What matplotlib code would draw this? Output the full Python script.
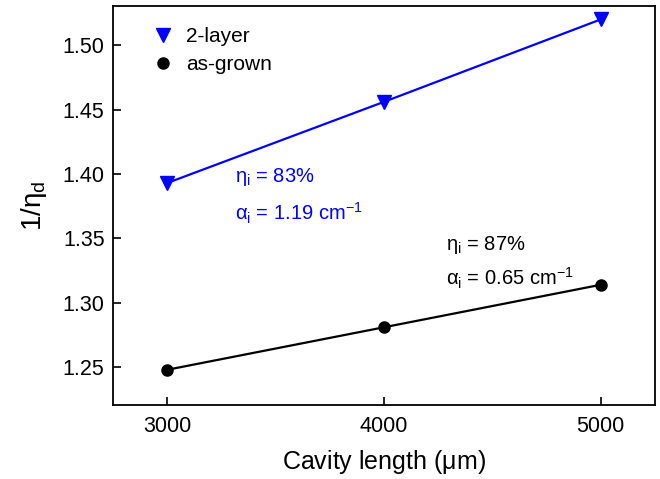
import matplotlib
matplotlib.use("Agg")
import matplotlib.pyplot as plt

plt.rcParams['font.family'] = ['Liberation Sans', 'DejaVu Sans']
plt.rcParams['mathtext.fontset'] = 'custom'
plt.rcParams['mathtext.rm'] = 'Liberation Sans'
plt.rcParams['mathtext.it'] = 'Liberation Sans'
plt.rcParams['mathtext.bf'] = 'Liberation Sans:bold'

# cavity length (um)
cavity = [3000, 4000, 5000]
# 1/eta_d values
two_layer = [1.393, 1.456, 1.520]
as_grown = [1.248, 1.281, 1.314]

x_ticks = [3000, 4000, 5000]
y_ticks = [1.25, 1.30, 1.35, 1.40, 1.45, 1.50]

blue = '#0000ff'

fig = plt.figure(figsize=(6.6, 4.79), dpi=100)
ax = fig.add_axes([0.171, 0.154, 0.821, 0.833])

# fit lines
ax.plot(cavity, two_layer, color=blue, lw=1.6)
ax.plot(cavity, as_grown, color='black', lw=1.6)
# measured points
ax.plot(cavity, two_layer, color=blue, ls='none', marker='v', ms=10,
        label='2-layer')
ax.plot(cavity, as_grown, color='black', ls='none', marker='o', ms=8,
        label='as-grown')

ax.set_xlim(2750, 5250)
ax.set_ylim(1.2205, 1.5303)
ax.set_xticks(x_ticks)
ax.set_yticks(y_ticks)
ax.set_yticklabels(['%.2f' % v for v in y_ticks])
ax.tick_params(direction='in', length=6, width=1.2, labelsize=15.5, pad=6)
ax.tick_params(axis='x', pad=8)
for s in ax.spines.values():
    s.set_linewidth(1.3)

ax.set_xlabel(r'Cavity length ($\mu$m)', fontsize=18, labelpad=8)
ax.set_ylabel(r'1/$\eta_\mathregular{d}$', fontsize=20, labelpad=10)

ax.legend(loc='upper left', frameon=False, fontsize=15, handlelength=1.0,
          handletextpad=0.6, labelspacing=0.45, borderaxespad=0.6,
          bbox_to_anchor=(0.035, 1.0))

ax.text(0.225, 0.559, r'$\eta_\mathregular{i}$ = 83%', color=blue,
        fontsize=14.5, transform=ax.transAxes, va='baseline')
ax.text(0.225, 0.464, r'$\alpha_\mathregular{i}$ = 1.19 cm$^\mathregular{-1}$',
        color=blue, fontsize=14.5, transform=ax.transAxes, va='baseline')
ax.text(0.614, 0.388, r'$\eta_\mathregular{i}$ = 87%', color='black',
        fontsize=14.5, transform=ax.transAxes, va='baseline')
ax.text(0.614, 0.301, r'$\alpha_\mathregular{i}$ = 0.65 cm$^\mathregular{-1}$',
        color='black', fontsize=14.5, transform=ax.transAxes, va='baseline')

fig.savefig('out.png', dpi=100)
